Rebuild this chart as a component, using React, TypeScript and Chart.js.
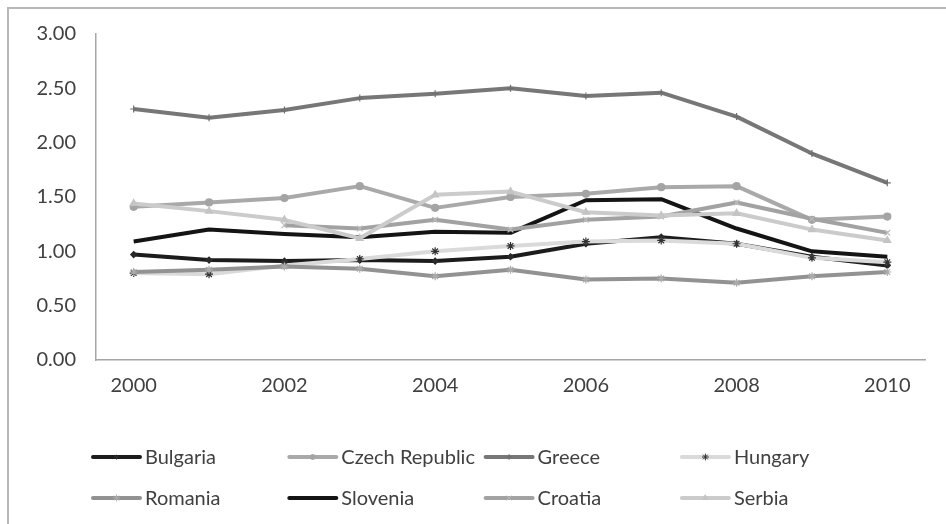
import React, { useEffect, useRef } from "react";
import { Chart, registerables } from "chart.js";
import { drawPoint } from "chart.js/helpers";

Chart.register(...registerables);

// Years on the category axis
const years = ["2000", "2001", "2002", "2003", "2004", "2005", "2006", "2007", "2008", "2009", "2010"];

// Index values per country
const bulgaria = [0.97, 0.92, 0.91, 0.92, 0.91, 0.95, 1.07, 1.13, 1.07, 0.95, 0.87];
const czechRepublic = [1.41, 1.45, 1.49, 1.6, 1.4, 1.5, 1.53, 1.59, 1.6, 1.29, 1.32];
const greece = [2.31, 2.23, 2.3, 2.41, 2.45, 2.5, 2.43, 2.46, 2.24, 1.9, 1.63];
const hungary = [0.8, 0.79, 0.87, 0.93, 1.0, 1.05, 1.09, 1.1, 1.07, 0.94, 0.9];
const romania = [0.81, 0.83, 0.86, 0.84, 0.77, 0.83, 0.74, 0.75, 0.71, 0.77, 0.81];
const slovenia = [1.09, 1.2, 1.16, 1.13, 1.18, 1.17, 1.47, 1.48, 1.21, 1.0, 0.95];
const croatia = [null, null, 1.24, 1.21, 1.29, 1.2, 1.29, 1.32, 1.45, 1.3, 1.17];
const serbia = [1.44, 1.37, 1.29, 1.12, 1.52, 1.55, 1.36, 1.33, 1.35, 1.2, 1.1];

// Y axis range
const yMin = 0;
const yMax = 3;
const yStep = 0.5;

const FONT = "Lato, 'Open Sans', sans-serif";
const TEXT = "#404040";

type Series = {
  label: string;
  data: (number | null)[];
  color: string;
  point: string | false;
  pointColor: string;
  radius: number;
};

const series: Series[] = [
  { label: "Bulgaria", data: bulgaria, color: "#1c1c1c", point: "rectRot", pointColor: "#2a2a2a", radius: 3 },
  { label: "Czech Republic", data: czechRepublic, color: "#a9a9a9", point: "circle", pointColor: "#a4a4a4", radius: 3.5 },
  { label: "Greece", data: greece, color: "#777777", point: "cross", pointColor: "#6e6e6e", radius: 3.5 },
  { label: "Hungary", data: hungary, color: "#dadada", point: "star", pointColor: "#333333", radius: 4 },
  { label: "Romania", data: romania, color: "#929292", point: "star", pointColor: "#ababab", radius: 4 },
  { label: "Slovenia", data: slovenia, color: "#141414", point: false, pointColor: "#141414", radius: 0 },
  { label: "Croatia", data: croatia, color: "#a2a2a2", point: "crossRot", pointColor: "#bbbbbb", radius: 4 },
  { label: "Serbia", data: serbia, color: "#cbcbcb", point: "triangle", pointColor: "#c4c4c4", radius: 4 },
];

// Two-row, four-column legend painted below the plot
const gridLegend = {
  id: "gridLegend",
  afterDraw(chart: any) {
    const ctx = chart.ctx;
    ctx.save();
    series.forEach((s, i) => {
      const col = i % 4;
      const row = Math.floor(i / 4);
      const x0 = 93 + col * 196.3;
      const y = 457 + row * 41;
      ctx.strokeStyle = s.color;
      ctx.lineWidth = 4;
      ctx.lineCap = "round";
      ctx.beginPath();
      ctx.moveTo(x0, y);
      ctx.lineTo(x0 + 47, y);
      ctx.stroke();
      if (s.point) {
        ctx.fillStyle = s.pointColor;
        ctx.strokeStyle = s.pointColor;
        ctx.lineWidth = 1;
        drawPoint(ctx, { pointStyle: s.point, radius: s.radius - 1, rotation: 0, borderWidth: 1 }, x0 + 23.5, y);
      }
      ctx.fillStyle = TEXT;
      ctx.font = `20px ${FONT}`;
      ctx.textBaseline = "middle";
      ctx.textAlign = "left";
      ctx.fillText(s.label, x0 + 52, y + 1);
    });
    ctx.restore();
  },
};

export default function App() {
  const ref = useRef<HTMLCanvasElement | null>(null);

  useEffect(() => {
    if (!ref.current) return;
    const chart = new Chart(ref.current, {
      type: "line",
      data: {
        labels: years,
        datasets: series.map((s, i) => ({
          label: s.label,
          data: s.data,
          borderColor: s.color,
          backgroundColor: s.pointColor,
          pointBorderColor: s.pointColor,
          pointBackgroundColor: s.pointColor,
          pointStyle: s.point || "circle",
          pointRadius: s.radius,
          pointBorderWidth: 1.2,
          borderWidth: 4,
          borderJoinStyle: "round" as const,
          tension: 0,
          spanGaps: false,
          order: series.length - 1 - i,
        })),
      },
      options: {
        responsive: false,
        animation: false,
        devicePixelRatio: 1,
        layout: { padding: { left: 0, right: 21, top: 34, bottom: 0 } },
        plugins: {
          legend: { display: false },
          tooltip: { enabled: false },
        },
        scales: {
          x: {
            type: "category",
            offset: true,
            grid: { display: true, color: "transparent", drawTicks: false },
            border: { display: true, color: "#a6a6a6", width: 1.5 },
            ticks: {
              autoSkip: false,
              maxRotation: 0,
              padding: 14,
              color: TEXT,
              font: { family: FONT, size: 20 },
              callback: (_v: any, i: number) => (i % 2 === 0 ? years[i] : ""),
            },
            afterFit: (s: any) => {
              s.height = 164;
            },
          },
          y: {
            min: yMin,
            max: yMax,
            grid: { display: true, color: "transparent", drawTicks: false },
            border: { display: true, color: "#a6a6a6", width: 1.5 },
            ticks: {
              stepSize: yStep,
              padding: 20,
              color: TEXT,
              font: { family: FONT, size: 20 },
              callback: (v: any) => Number(v).toFixed(2),
            },
            afterFit: (s: any) => {
              s.width = 96;
            },
          },
        },
      },
      plugins: [gridLegend],
    });
    return () => chart.destroy();
  }, []);

  return (
    <div style={{ position: "fixed", left: 0, top: 0, width: 946, height: 524, background: "#fff", overflow: "hidden" }}>
      <div
        style={{
          position: "absolute",
          left: 7,
          top: 7,
          right: -10,
          bottom: -10,
          borderLeft: "2px solid #b8b8b8",
          borderTop: "2px solid #b8b8b8",
        }}
      />
      <canvas ref={ref} width={946} height={524} style={{ position: "absolute", left: 0, top: 0, width: 946, height: 524 }} />
    </div>
  );
}
